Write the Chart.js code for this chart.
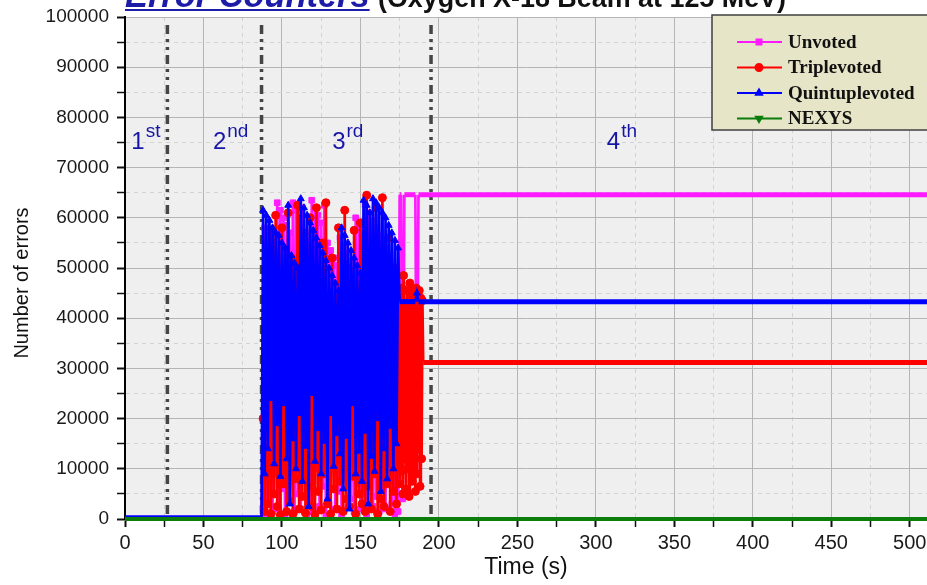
<!DOCTYPE html>
<html>
<head>
<meta charset="utf-8">
<script src="https://cdn.jsdelivr.net/npm/chart.js@4.4.0/dist/chart.umd.min.js"></script>
<style>
  html, body { margin: 0; background: #fff; }
  canvas { display: block; }
</style>
</head>
<body>
<canvas id="chart" width="927" height="585"></canvas>
<script>
// ─────────────────────────────────────────────────────────────────────────────
// DATA — error counters vs time (s)
// ─────────────────────────────────────────────────────────────────────────────

const tUnvoted = [0, 87,
  88, 89, 90, 91, 92, 93, 94, 95, 96, 97, 98, 99, 100, 101, 102, 103, 104, 105, 106, 107,
  108, 109, 110, 111, 112, 113, 114, 115, 116, 117, 118, 119, 120, 121, 122, 123, 124, 125, 126, 127,
  128, 129, 130, 131, 132, 133, 134, 135, 136, 137, 138, 139, 140, 141, 142, 143, 144, 145, 146, 147,
  148, 149, 150, 151, 152, 153, 154, 155, 156, 157, 158, 159, 160, 161, 162, 163, 164, 165, 166, 167,
  168, 169, 170, 171, 172, 173, 174, 175, 176, 177, 178, 185, 186, 187, 511];
const vUnvoted = [300, 300,
  2000, 58000, 1000, 57000, 4500, 56000, 1500, 55000, 9000, 63000, 2000, 61500, 6000, 60000, 1000, 58500, 3500, 57000, 12000, 63000,
  1500, 61500, 5000, 60000, 2000, 62000, 8000, 57000, 1000, 55500, 4000, 63500, 1500, 62000, 10000, 60500, 2500, 59000, 6500, 62500,
  1000, 55000, 3000, 53500, 14000, 52000, 2000, 50500, 5500, 56000, 1000, 54500, 8500, 53000, 2500, 51500, 4000, 50000, 1500, 60000,
  7000, 58500, 2000, 57000, 5000, 62500, 1000, 61000, 9500, 59500, 2500, 58000, 4500, 56500, 1500, 55000, 6000, 53500, 2000, 52000,
  11000, 50500, 3000, 49000, 1000, 47500, 1500, 64600, 64600, 4000, 64600, 64600, 9000, 64600, 64600];

const tTriple = [0, 87,
  88, 89, 90, 91, 92, 93, 94, 95, 96, 97, 98, 99, 100, 101, 102, 103, 104, 105, 106, 107,
  108, 109, 110, 111, 112, 113, 114, 115, 116, 117, 118, 119, 120, 121, 122, 123, 124, 125, 126, 127,
  128, 129, 130, 131, 132, 133, 134, 135, 136, 137, 138, 139, 140, 141, 142, 143, 144, 145, 146, 147,
  148, 149, 150, 151, 152, 153, 154, 155, 156, 157, 158, 159, 160, 161, 162, 163, 164, 165, 166, 167,
  168, 169, 170, 171, 172, 173, 174,
  175, 175.5, 176, 176.5, 177, 177.5, 178, 178.5, 179, 179.5, 180, 180.5, 181, 181.5, 182, 182.5,
  183, 183.5, 184, 184.5, 185, 185.5, 186, 186.5, 187, 187.5, 188, 188.5, 189, 189.5, 190, 511];
const vTriple = [0, 0,
  20000, 1500, 48000, 3000, 57500, 1000, 42000, 5000, 60500, 2500, 38000, 800, 58000, 7000, 45000, 1500, 61000, 3500, 52000, 1000,
  44000, 8000, 62500, 2000, 35000, 4500, 57000, 1200, 49000, 6500, 60000, 2500, 41000, 900, 62000, 5500, 47000, 1800, 55000, 9000,
  63000, 3000, 38000, 1000, 52000, 6000, 44000, 2000, 58000, 7500, 36000, 1500, 61500, 4000, 50000, 2500, 42000, 8500, 57500, 1000,
  46000, 5000, 59000, 3000, 40000, 1500, 64500, 6500, 53000, 2000, 48000, 9000, 62000, 1000, 39000, 4000, 64000, 2500, 45000, 7000,
  56000, 1500, 43000, 5500, 50000, 3000, 41000,
  7000, 44000, 9500, 46000, 5000, 48500, 12000, 43000, 6000, 45500, 10000, 42000, 4500, 47000, 13000, 44500,
  7500, 45500, 11000, 43000, 5500, 46000, 9000, 42500, 14000, 45500, 6500, 44000, 12000, 43500, 31200, 31200];

const tQuint = [0, 87,
  88, 89, 90, 91, 92, 93, 94, 95, 96, 97, 98, 99, 100, 101, 102, 103, 104, 105, 106, 107,
  108, 109, 110, 111, 112, 113, 114, 115, 116, 117, 118, 119, 120, 121, 122, 123, 124, 125, 126, 127,
  128, 129, 130, 131, 132, 133, 134, 135, 136, 137, 138, 139, 140, 141, 142, 143, 144, 145, 146, 147,
  148, 149, 150, 151, 152, 153, 154, 155, 156, 157, 158, 159, 160, 161, 162, 163, 164, 165, 166, 167,
  168, 169, 170, 171, 172, 173, 174, 175, 185, 186, 187, 511];
const vQuint = [500, 500,
  61500, 9000, 60500, 14000, 59500, 24000, 58000, 11000, 57000, 19000, 56500, 8500, 55000, 23000, 54000, 12000, 62500, 3000, 52500, 16000,
  51000, 10000, 50000, 21000, 63800, 7500, 62000, 14500, 60500, 2500, 59000, 25000, 57500, 11500, 56000, 18000, 54500, 9000, 53000, 15500,
  51500, 4000, 50000, 21000, 48500, 10500, 47000, 17000, 45500, 13000, 58000, 6000, 56500, 16500, 55000, 2000, 53500, 23000, 52000, 9000,
  50500, 13500, 49000, 7500, 63500, 17500, 62500, 3000, 61000, 12500, 63800, 9500, 63000, 20000, 62000, 5500, 61000, 14000, 60000, 8000,
  58500, 18500, 57000, 10000, 55500, 15000, 54000, 43300, 43300, 45000, 43300, 43300];

const tNexys = [0, 511];
const vNexys = [0, 0];

const phaseBounds  = [27, 87, 195];
const phaseNums    = ['1', '2', '3', '4'];
const phaseSups    = ['st', 'nd', 'rd', 'th'];
const phaseLabelT  = [4, 56, 132, 307];
const phaseLabelY  = 73800;

const seriesNames  = ['Unvoted', 'Triplevoted', 'Quintuplevoted', 'NEXYS'];
const xTickStep = 25, yTickStep = 5000;

// ─────────────────────────────────────────────────────────────────────────────
// helpers
// ─────────────────────────────────────────────────────────────────────────────

const pts = (t, v) => t.map((x, i) => ({ x, y: v[i] }));

// flat stretches (held counters) have no visible markers, only a thick band
function markerRadius(r) {
  return ctx => {
    const d = ctx.dataset.data, i = ctx.dataIndex;
    const y = d[i].y;
    if ((d[i - 1] && d[i - 1].y === y) || (d[i + 1] && d[i + 1].y === y)) return 0;
    return r;
  };
}
const heldWidth = ctx =>
  (ctx.p0.parsed.y === ctx.p1.parsed.y && ctx.p0.parsed.x >= 170) ? 5 : undefined;

const COLORS = ['#ff1aff', '#ff0000', '#0000ff', '#0a7d0a'];
const STYLES = ['rect', 'circle', 'triangle', 'triangle'];
const FONT = '"Liberation Sans", Arial';

// ─────────────────────────────────────────────────────────────────────────────
// plugins — plot background, phase markers, title, legend
// ─────────────────────────────────────────────────────────────────────────────

const decor = {
  id: 'decor',
  beforeDraw(chart) {
    const { ctx, chartArea: a } = chart;
    ctx.save();
    ctx.fillStyle = '#efefef';
    ctx.fillRect(a.left, a.top, a.right - a.left, a.bottom - a.top);
    ctx.restore();
  },
  beforeDatasetsDraw(chart) {
    const { ctx, chartArea: a, scales: { x } } = chart;
    ctx.save();
    ctx.strokeStyle = '#454545';
    ctx.lineWidth = 3.5;
    ctx.setLineDash([9, 5, 3, 5, 3, 5]);
    phaseBounds.forEach(t => {
      const px = x.getPixelForValue(t);
      ctx.beginPath();
      ctx.moveTo(px, a.top + 8);
      ctx.lineTo(px, a.bottom);
      ctx.stroke();
    });
    ctx.restore();
  },
  afterDraw(chart) {
    const { ctx, chartArea: a, scales: { x, y } } = chart;
    ctx.save();

    // y axis title
    ctx.save();
    ctx.translate(22, 283);
    ctx.rotate(-Math.PI / 2);
    ctx.font = `20px ${FONT}`;
    ctx.fillStyle = '#111';
    ctx.textAlign = 'center';
    ctx.textBaseline = 'middle';
    ctx.fillText('Number of errors', 0, 0);
    ctx.restore();

    // phase labels 1st / 2nd / 3rd / 4th
    ctx.fillStyle = '#1616a6';
    ctx.textBaseline = 'alphabetic';
    const py = y.getPixelForValue(phaseLabelY);
    phaseNums.forEach((n, i) => {
      const px = x.getPixelForValue(phaseLabelT[i]);
      ctx.font = `24px ${FONT}`;
      ctx.fillText(n, px, py);
      const w = ctx.measureText(n).width;
      ctx.font = `19px ${FONT}`;
      ctx.fillText(phaseSups[i], px + w + 1, py - 12);
    });

    // title (clipped by the top edge, as in the source)
    ctx.font = `italic bold 34.4px ${FONT}`;
    ctx.fillStyle = '#1c1ca8';
    ctx.fillText('Error Counters', 125, 7);
    const tw = ctx.measureText('Error Counters').width;
    ctx.fillRect(125, 9, tw, 2);
    ctx.font = `bold 26.9px ${FONT}`;
    ctx.fillStyle = '#111';
    ctx.fillText('(Oxygen X-18 Beam at 125 MeV)', 378, 7);

    // legend box
    const lx = a.right - 215, ly = 15;
    ctx.fillStyle = '#e7e5c8';
    ctx.fillRect(lx, ly, 240, 115);
    ctx.strokeStyle = '#404040';
    ctx.lineWidth = 1.5;
    ctx.strokeRect(lx, ly, 240, 115);
    ctx.textBaseline = 'middle';
    ctx.font = 'bold 19px "Liberation Serif", "Times New Roman"';
    seriesNames.forEach((name, i) => {
      const ry = ly + 27 + i * 25.5;
      ctx.strokeStyle = COLORS[i];
      ctx.fillStyle = COLORS[i];
      ctx.lineWidth = 2;
      ctx.beginPath();
      ctx.moveTo(lx + 25, ry);
      ctx.lineTo(lx + 70, ry);
      ctx.stroke();
      Chart.helpers.drawPoint(ctx, {
        pointStyle: STYLES[i], radius: 3.5, rotation: i === 3 ? 180 : 0, borderWidth: 1
      }, lx + 47, ry);
      ctx.fillStyle = '#111';
      ctx.fillText(name, lx + 76, ry + 1);
    });
    ctx.restore();
  }
};

// ─────────────────────────────────────────────────────────────────────────────
// chart
// ─────────────────────────────────────────────────────────────────────────────

function series(i, t, v, extra) {
  return Object.assign({
    label: seriesNames[i],
    data: pts(t, v),
    borderColor: COLORS[i],
    backgroundColor: COLORS[i],
    borderWidth: 2.7,
    pointStyle: STYLES[i],
    pointRadius: markerRadius(4),
    pointBorderWidth: 1,
    tension: 0,
    segment: { borderWidth: heldWidth }
  }, extra || {});
}

const isMinor = (ctx, step) => ctx.tick && ctx.tick.value % (step * 2) !== 0;
const gridOpts = step => ({
  color: ctx => isMinor(ctx, step) ? '#d2d2d2' : '#b5b5b5',
  lineWidth: 1,
  tickColor: '#111',
  tickWidth: ctx => isMinor(ctx, step) ? 1.5 : 2,
  tickLength: 8
});
const borderOpts = step => ({
  display: true, color: '#000', width: 2,
  dash: ctx => isMinor(ctx, step) ? [4, 4] : []
});
// no extra edge padding for overhanging tick labels
const noPad = s => { s.paddingLeft = s.paddingRight = s.paddingTop = s.paddingBottom = 0; };

new Chart(document.getElementById('chart'), {
  type: 'line',
  data: {
    datasets: [
      series(3, tNexys, vNexys, { borderWidth: 4, pointRadius: 0, clip: false, order: 0 }),
      series(2, tQuint, vQuint, { order: 1 }),
      series(1, tTriple, vTriple, { order: 2 }),
      series(0, tUnvoted, vUnvoted, { order: 3 })
    ]
  },
  options: {
    responsive: false,
    animation: false,
    devicePixelRatio: 1,
    layout: { padding: { top: 17, right: 0, left: 0, bottom: 0 } },
    plugins: { legend: { display: false }, tooltip: { enabled: false } },
    scales: {
      x: {
        type: 'linear', min: 0, max: 511,
        afterBuildTicks: s => { s.ticks = s.ticks.filter(t => t.value % xTickStep === 0); },
        afterFit: s => { s.height = 66; noPad(s); },
        ticks: {
          stepSize: xTickStep, includeBounds: false, autoSkip: false, maxRotation: 0, padding: 4,
          color: '#1a1a1a', font: { family: FONT, size: 20 },
          callback: v => (v % (xTickStep * 2) === 0 ? String(v) : '')
        },
        grid: gridOpts(xTickStep),
        border: borderOpts(xTickStep),
        title: {
          display: true, text: 'Time (s)', color: '#111',
          font: { family: FONT, size: 23 }, padding: { top: 6 }
        }
      },
      y: {
        min: 0, max: 100000,
        afterBuildTicks: s => { s.ticks = s.ticks.filter(t => t.value % yTickStep === 0); },
        afterFit: s => { s.width = 125; noPad(s); },
        ticks: {
          stepSize: yTickStep, autoSkip: false, padding: 8,
          color: '#1a1a1a', font: { family: FONT, size: 19 },
          callback: v => (v % (yTickStep * 2) === 0 ? String(v) : '')
        },
        grid: gridOpts(yTickStep),
        border: borderOpts(yTickStep)
      }
    }
  },
  plugins: [decor]
});
</script>
</body>
</html>
